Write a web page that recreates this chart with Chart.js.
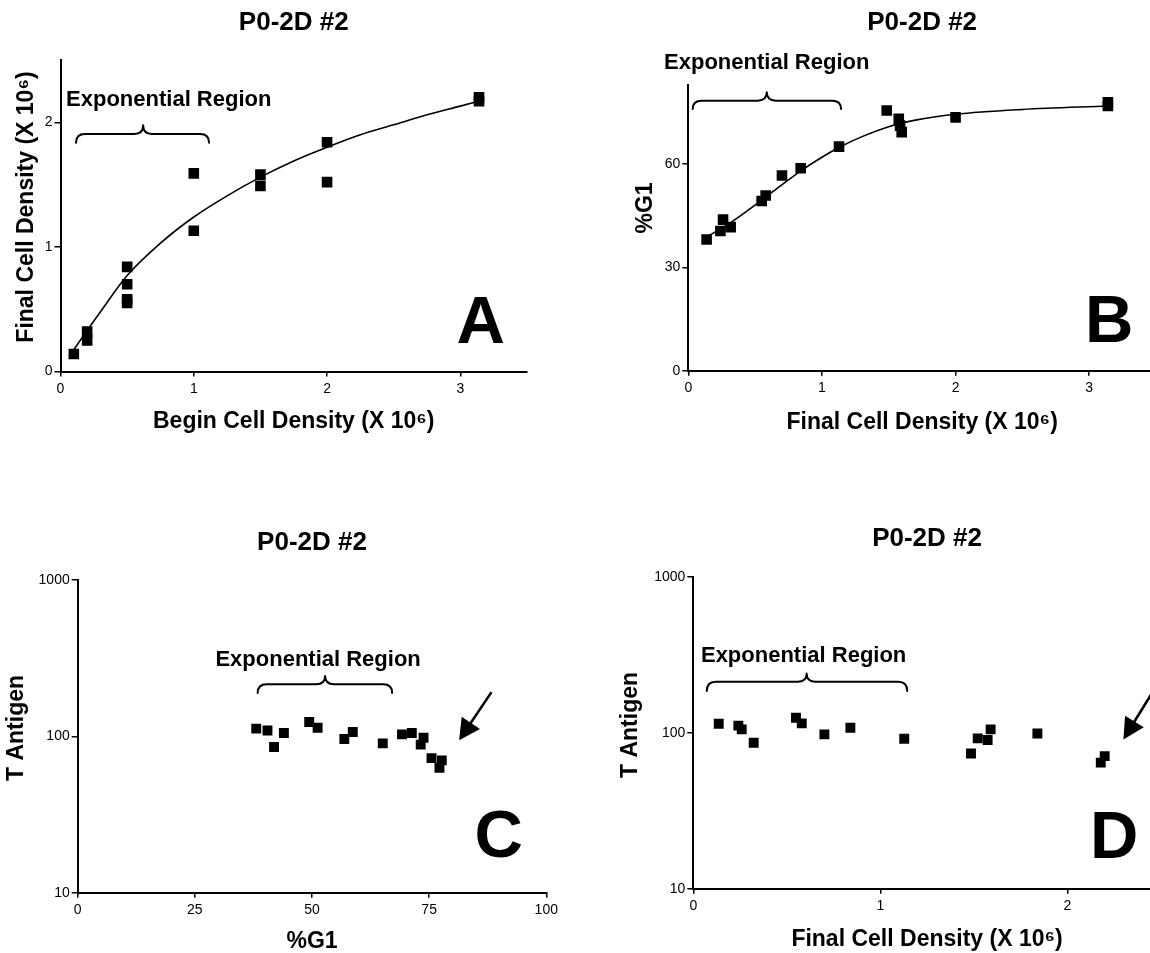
<!DOCTYPE html>
<html>
<head>
<meta charset="utf-8">
<script src="https://cdn.jsdelivr.net/npm/chart.js@4.4.1/dist/chart.umd.min.js"></script>
<style>
html,body{margin:0;padding:0;background:#fff;overflow:hidden;width:1150px;height:953px;position:relative;}
canvas{position:absolute;display:block;}
</style>
</head>
<body>
<canvas id="cA" width="560" height="450" style="left:0px;top:0px;width:560px;height:450px"></canvas>
<canvas id="cB" width="600" height="450" style="left:580px;top:0px;width:600px;height:450px"></canvas>
<canvas id="cC" width="580" height="480" style="left:0px;top:480px;width:580px;height:480px"></canvas>
<canvas id="cD" width="600" height="480" style="left:580px;top:480px;width:600px;height:480px"></canvas>
<script>
// ---------------- DATA ----------------
const panelTitle = 'P0-2D #2';

// Panel A: Begin vs Final cell density (X 10^6)
const aBeginDensity = [0.1, 0.2, 0.2, 0.5, 0.5, 0.5, 0.5, 1, 1, 1.5, 1.5, 2, 2, 3.14, 3.14];
const aFinalDensity = [0.14, 0.32, 0.25, 0.84, 0.70, 0.58, 0.55, 1.59, 1.13, 1.58, 1.49, 1.84, 1.52, 2.20, 2.17];
const aFitX = [0.09, 0.2, 0.3, 0.5, 0.75, 1.0, 1.25, 1.5, 1.75, 2.0, 2.25, 2.5, 2.75, 3.0, 3.14];
const aFitY = [0.16, 0.33, 0.48, 0.77, 1.03, 1.24, 1.41, 1.56, 1.69, 1.80, 1.90, 1.98, 2.06, 2.13, 2.17];

// Panel B: Final cell density vs %G1
const bFinalDensity = [0.137, 0.24, 0.26, 0.317, 0.549, 0.579, 0.701, 0.841, 1.128, 1.485, 1.575, 1.585, 1.597, 2.0, 3.14, 3.14];
const bPctG1 = [38.1, 40.6, 43.9, 41.7, 49.3, 50.9, 56.7, 58.8, 65.1, 75.6, 73.2, 71.2, 69.3, 73.6, 78.0, 76.9];
const bFitX = [0.13, 0.3, 0.55, 0.7, 0.84, 1.0, 1.13, 1.3, 1.5, 1.7, 2.0, 2.5, 3.14];
const bFitY = [38.7, 42.6, 49.6, 54.0, 58.0, 62.0, 64.9, 68.0, 70.9, 72.8, 74.5, 75.9, 76.9];

// Panel C: %G1 vs T Antigen
const cPctG1 = [38.1, 40.5, 41.9, 44.0, 49.4, 51.2, 56.9, 58.7, 65.1, 69.2, 71.3, 73.8, 73.2, 75.5, 77.2, 77.7];
const cTAntigen = [112, 109, 85.4, 105, 123.5, 113.6, 96.1, 106.6, 90.2, 103, 105, 98, 88.5, 72.6, 63, 70.2];

// Panel D: Final cell density vs T Antigen
const dFinalDensity = [0.136, 0.241, 0.259, 0.323, 0.549, 0.58, 0.701, 0.84, 1.128, 1.485, 1.521, 1.574, 1.59, 1.84, 2.179, 2.2];
const dTAntigen = [114, 111, 105, 86.3, 124.8, 114.7, 97.5, 107.6, 91.5, 73.6, 91.9, 89.7, 105, 98.9, 64.3, 70.8];

// Tick labels
const ticksDensity3 = [0, 1, 2, 3];
const ticksDensity2 = [0, 1, 2];
const ticksAy = [0, 1, 2];
const ticksBy = [0, 30, 60];
const ticksCx = [0, 25, 50, 75, 100];
const ticksLog = [10, 100, 1000];

// Text
const xTitleA = 'Begin Cell Density (X 10\u2076)';
const yTitleA = 'Final Cell Density (X 10\u2076)';
const xTitleB = 'Final Cell Density (X 10\u2076)';
const yTitleB = '%G1';
const xTitleC = '%G1';
const yTitleC = 'T Antigen';
const xTitleD = 'Final Cell Density (X 10\u2076)';
const yTitleD = 'T Antigen';
const regionLabel = 'Exponential Region';

// ---------------- DRAWING ----------------
const FONT = '"Liberation Sans", Arial, Helvetica, sans-serif';
Chart.defaults.font.family = FONT;
Chart.defaults.color = '#000';

const annotPlugin = {
  id: 'annot',
  afterDraw(chart, args, o) {
    const ctx = chart.ctx, ca = chart.chartArea;
    const xs = chart.scales.x, ys = chart.scales.y;
    const X = v => xs.getPixelForValue(v), Y = v => ys.getPixelForValue(v);
    ctx.save();
    ctx.fillStyle = '#000'; ctx.strokeStyle = '#000';
    if (o.yTitle) {
      ctx.save();
      ctx.translate(ca.left + o.yTitle.dx, (ca.top + ca.bottom) / 2 + o.yTitle.dy);
      ctx.rotate(-Math.PI / 2);
      ctx.font = 'bold 23px ' + FONT;
      ctx.textAlign = 'center'; ctx.textBaseline = 'middle';
      ctx.fillText(o.yTitle.text, 0, 0);
      ctx.restore();
    }
    if (o.brace) {
      const b = o.brace;
      const x0 = X(b.x0), x1 = X(b.x1), xm = X(b.xm);
      const yb = Y(b.yEnd), yl = Y(b.yLine), yt = Y(b.yTip);
      const r = 9;
      ctx.lineWidth = 2; ctx.lineJoin = 'round'; ctx.lineCap = 'round';
      ctx.beginPath();
      ctx.moveTo(x0, yb);
      ctx.quadraticCurveTo(x0, yl, x0 + r, yl);
      ctx.lineTo(xm - r, yl);
      ctx.quadraticCurveTo(xm, yl, xm, yt);
      ctx.quadraticCurveTo(xm, yl, xm + r, yl);
      ctx.lineTo(x1 - r, yl);
      ctx.quadraticCurveTo(x1, yl, x1, yb);
      ctx.stroke();
    }
    if (o.label) {
      ctx.font = 'bold 22px ' + FONT;
      ctx.textAlign = 'center'; ctx.textBaseline = 'alphabetic';
      ctx.fillText(o.label.text, X(o.label.x), Y(o.label.y));
    }
    if (o.arrow) {
      const a = o.arrow;
      const tx = X(a.x0), ty = Y(a.y0), hx = X(a.x1), hy = Y(a.y1);
      const ang = Math.atan2(hy - ty, hx - tx);
      const L = 21, W = 11;
      const bx = hx - L * Math.cos(ang), by = hy - L * Math.sin(ang);
      ctx.lineWidth = 2.5; ctx.lineCap = 'butt';
      ctx.beginPath(); ctx.moveTo(tx, ty); ctx.lineTo(bx + 2 * Math.cos(ang), by + 2 * Math.sin(ang)); ctx.stroke();
      ctx.beginPath();
      ctx.moveTo(hx, hy);
      ctx.lineTo(bx + W * Math.sin(ang), by - W * Math.cos(ang));
      ctx.lineTo(bx - W * Math.sin(ang), by + W * Math.cos(ang));
      ctx.closePath(); ctx.fill();
    }
    if (o.letter) {
      ctx.font = 'bold 67px ' + FONT;
      ctx.textAlign = 'right'; ctx.textBaseline = 'alphabetic';
      ctx.fillText(o.letter.text, ca.right - o.letter.dx, ca.bottom - o.letter.dy);
    }
    ctx.restore();
  }
};

function pts(xa, ya) { return xa.map((x, i) => ({ x: x, y: ya[i] })); }

function axis(opts) {
  const horiz = opts.pos === 'bottom';
  const cfg = {
    type: opts.type || 'linear',
    position: opts.pos,
    min: opts.min, max: opts.max,
    afterFit(s) { if (horiz) s.height = opts.size; else s.width = opts.size; },
    afterBuildTicks(s) { s.ticks = opts.ticks.map(v => ({ value: v })); },
    border: { display: true, color: '#000', width: 2 },
    grid: { display: true, drawOnChartArea: false, drawTicks: true, tickLength: horiz ? 5 : 6, color: '#000', lineWidth: 1.5 },
    ticks: { color: '#000', font: { size: 14 }, padding: horiz ? 4 : 2, maxRotation: 0, autoSkip: false, callback: v => String(v) },
    title: { display: false }
  };
  if (horiz && opts.title) {
    cfg.title = { display: true, text: opts.title, color: '#000', font: { size: 23, weight: 'bold' }, padding: { top: 0, bottom: opts.titlePad } };
  }
  return cfg;
}

function makeChart(id, p) {
  const datasets = [];
  if (p.fit) {
    datasets.push({ data: p.fit, showLine: true, pointRadius: 0, borderColor: '#000', borderWidth: 1.6,
      cubicInterpolationMode: 'monotone', fill: false, order: 2 });
  }
  datasets.push({ data: p.points, pointStyle: 'rect', pointRadius: p.r, backgroundColor: '#000', borderWidth: 0, order: 1 });
  return new Chart(document.getElementById(id), {
    type: 'scatter',
    data: { datasets: datasets },
    options: {
      responsive: false, animation: false, devicePixelRatio: 1,
      layout: { padding: { left: 0, top: 0, right: p.padRight, bottom: 0 } },
      plugins: {
        legend: { display: false }, tooltip: { enabled: false },
        title: { display: true, text: panelTitle, color: '#000', font: { size: 26, weight: 'bold' }, fullSize: false,
          padding: { top: p.titleTop, bottom: p.titleBottom } },
        annot: p.annot
      },
      scales: { x: p.x, y: p.y }
    },
    plugins: [annotPlugin]
  });
}

// Panel A
makeChart('cA', {
  points: pts(aBeginDensity, aFinalDensity), fit: pts(aFitX, aFitY), r: 7.5,
  padRight: 33, titleTop: 7.4, titleBottom: 21.4,
  x: axis({ pos: 'bottom', min: 0, max: 3.5, ticks: ticksDensity3, size: 78.5, title: xTitleA, titlePad: 14.5 }),
  y: axis({ pos: 'left', min: 0, max: 2.5, ticks: ticksAy, size: 60.5 }),
  annot: {
    yTitle: { text: yTitleA, dx: -33.5, dy: -8.75 },
    brace: { x0: 0.116, x1: 1.115, xm: 0.62, yEnd: 1.836, yLine: 1.906, yTip: 1.976 },
    label: { text: regionLabel, x: 0.812, y: 2.131 },
    letter: { text: 'A', dx: 22, dy: 28.5 }
  }
});

// Panel B
makeChart('cB', {
  points: pts(bFinalDensity, bPctG1), fit: pts(bFitX, bFitY), r: 7.5,
  padRight: 24, titleTop: 6.9, titleBottom: 46.9,
  x: axis({ pos: 'bottom', min: 0, max: 3.5, ticks: ticksDensity3, size: 79.3, title: xTitleB, titlePad: 13.5 }),
  y: axis({ pos: 'left', min: 0, max: 83, ticks: ticksBy, size: 108.3 }),
  annot: {
    yTitle: { text: yTitleB, dx: -42.8, dy: -19.85 },
    brace: { x0: 0.033, x1: 1.143, xm: 0.587, yEnd: 76.06, yLine: 78.46, yTip: 80.87 },
    label: { text: regionLabel, x: 0.587, y: 87.7 },
    letter: { text: 'B', dx: 22.7, dy: 29 }
  }
});

// Panel C
makeChart('cC', {
  points: pts(cPctG1, cTAntigen), r: 7,
  padRight: 33.7, titleTop: 47.1, titleBottom: 21.7,
  x: axis({ pos: 'bottom', min: 0, max: 100, ticks: ticksCx, size: 67.3, title: xTitleC, titlePad: 4.5 }),
  y: axis({ pos: 'left', type: 'logarithmic', min: 10, max: 1000, ticks: ticksLog, size: 77.7 }),
  annot: {
    yTitle: { text: yTitleC, dx: -61, dy: -8.35 },
    brace: { x0: 38.4, x1: 67.1, xm: 52.8, yEnd: 189.3, yLine: 215.4, yTip: 243.4 },
    label: { text: regionLabel, x: 51.3, y: 281.8 },
    arrow: { x0: 88.3, y0: 191.9, x1: 81.4, y1: 94.3 },
    letter: { text: 'C', dx: 23.3, dy: 35.7 }
  }
});

// Panel D
makeChart('cD', {
  points: pts(dFinalDensity, dTAntigen), r: 7,
  padRight: 19.2, titleTop: 43.7, titleBottom: 21.8,
  x: axis({ pos: 'bottom', min: 0, max: 2.5, ticks: ticksDensity2, size: 71.3, title: xTitleD, titlePad: 6.9 }),
  y: axis({ pos: 'left', type: 'logarithmic', min: 10, max: 1000, ticks: ticksLog, size: 113.3 }),
  annot: {
    yTitle: { text: yTitleD, dx: -62.3, dy: -7.7 },
    brace: { x0: 0.072, x1: 1.144, xm: 0.606, yEnd: 184.8, yLine: 212.3, yTip: 240 },
    label: { text: regionLabel, x: 0.59, y: 285 },
    arrow: { x0: 2.463, y0: 187.8, x1: 2.30, y1: 90.6 },
    letter: { text: 'D', dx: 22.5, dy: 30.4 }
  }
});
</script>
</body>
</html>
